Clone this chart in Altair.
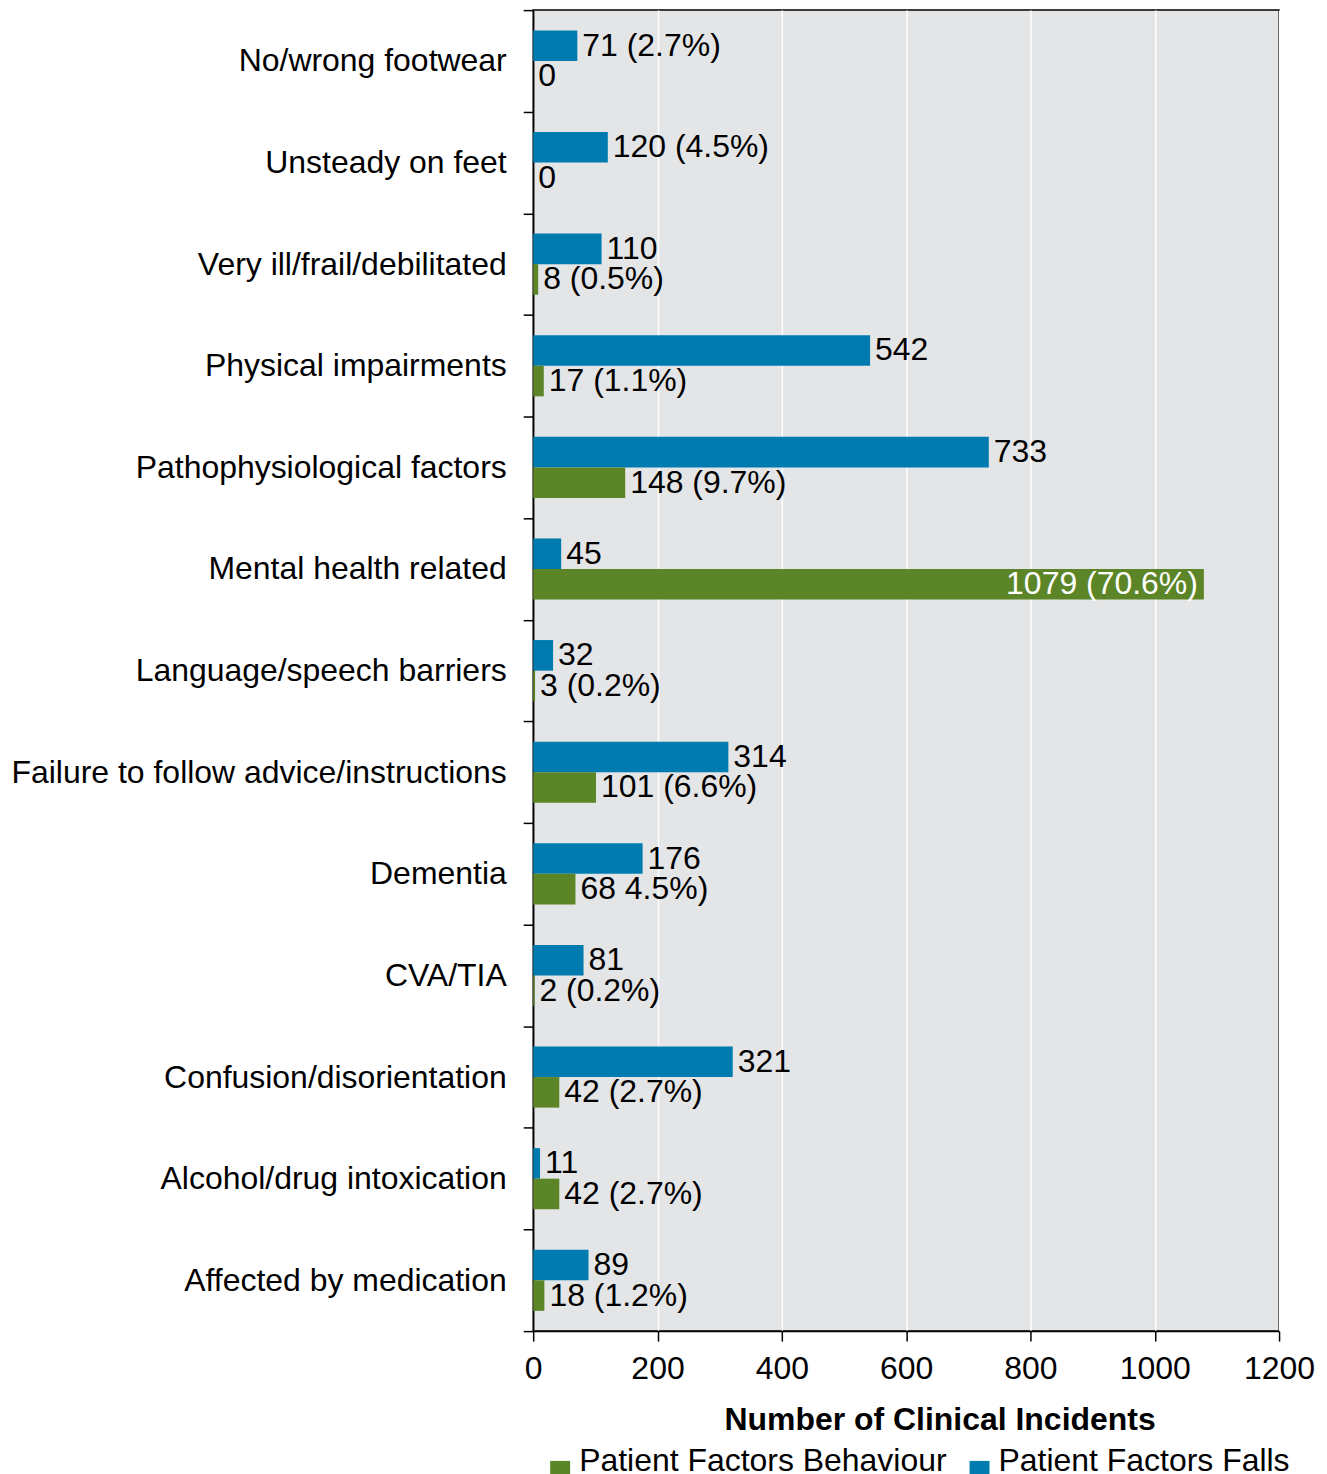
import altair as alt
import pandas as pd

categories = [
    "No/wrong footwear",
    "Unsteady on feet",
    "Very ill/frail/debilitated",
    "Physical impairments",
    "Pathophysiological factors",
    "Mental health related",
    "Language/speech barriers",
    "Failure to follow advice/instructions",
    "Dementia",
    "CVA/TIA",
    "Confusion/disorientation",
    "Alcohol/drug intoxication",
    "Affected by medication",
]
falls = [71, 120, 110, 542, 733, 45, 32, 314, 176, 81, 321, 11, 89]
behaviour = [0, 0, 8, 17, 148, 1079, 3, 101, 68, 2, 42, 42, 18]
falls_labels = ["71 (2.7%)", "120 (4.5%)", "110", "542", "733", "45", "32",
                "314", "176", "81", "321", "11", "89"]
behaviour_labels = ["0", "0", "8 (0.5%)", "17 (1.1%)", "148 (9.7%)", "1079 (70.6%)",
                    "3 (0.2%)", "101 (6.6%)", "68 4.5%)", "2 (0.2%)", "42 (2.7%)",
                    "42 (2.7%)", "18 (1.2%)"]
series_names = ["Patient Factors Behaviour", "Patient Factors Falls"]
series_colors = ["#5B8527", "#007BB0"]
x_ticks = [0, 200, 400, 600, 800, 1000, 1200]

rows = []
for i, c in enumerate(categories):
    rows.append(dict(category=c, series=series_names[1], value=falls[i], label=falls_labels[i]))
    rows.append(dict(category=c, series=series_names[0], value=behaviour[i], label=behaviour_labels[i]))
df = pd.DataFrame(rows)
df["inside"] = df["value"] > 1000

FONT = "Liberation Sans"

y_enc = alt.Y(
    "category:N", sort=categories,
    scale=alt.Scale(paddingInner=0, paddingOuter=0),
    axis=alt.Axis(title=None, tickBand="extent", tickSize=10, tickWidth=1.5,
                  labelFontSize=32, labelPadding=17, labelColor="black",
                  domainColor="black", domainWidth=1.5, tickColor="black",
                  labelLimit=700, grid=False, labelFont=FONT),
)
yoff_enc = alt.YOffset(
    "series:N", sort=[series_names[1], series_names[0]],
    scale=alt.Scale(paddingInner=0, paddingOuter=0.663),
)
x_enc = alt.X(
    "value:Q",
    scale=alt.Scale(domain=[0, 1200], nice=False),
    axis=alt.Axis(values=x_ticks, format="d", title="Number of Clinical Incidents",
                  titleFontSize=32, titleFontWeight="bold", titleColor="black",
                  titleFont=FONT, titleX=407, titlePadding=21,
                  grid=True, gridColor="white", gridWidth=1.5,
                  tickSize=10, tickWidth=1.5, tickColor="black",
                  domainColor="black", domainWidth=1.5,
                  labelFontSize=32, labelPadding=12, labelColor="black",
                  labelFont=FONT, labelFlush=False),
)

base = alt.Chart(df).encode(y=y_enc, yOffset=yoff_enc)

bars = base.mark_bar().encode(
    x=x_enc,
    color=alt.Color(
        "series:N",
        scale=alt.Scale(domain=series_names, range=series_colors),
        legend=alt.Legend(title=None, orient="none", legendX=11, legendY=1447,
                          direction="horizontal", symbolType="square",
                          symbolSize=400, symbolStrokeWidth=0,
                          labelFontSize=32, labelFont=FONT, labelColor="black",
                          labelOffset=3, columnPadding=16, labelLimit=700,
                          labelBaseline="alphabetic", padding=0),
    ),
)

text_out = base.mark_text(align="left", baseline="middle", dx=5, fontSize=32,
                          color="black", font=FONT).encode(
    x=alt.X("value:Q"), text="label:N"
).transform_filter("!datum.inside")

text_in = base.mark_text(align="right", baseline="middle", dx=-6, fontSize=32,
                         color="white", font=FONT).encode(
    x=alt.X("value:Q"), text="label:N"
).transform_filter("datum.inside")

chart = alt.layer(bars, text_out, text_in).properties(
    width=747, height=1323,
    autosize=alt.AutoSizeParams(type="none"),
    padding={"left": 526, "top": 1, "right": 40, "bottom": 150},
).configure(
    font=FONT
).configure_view(
    fill="#E4E5E7", stroke="black", strokeWidth=1.5
)

chart.save("out.html", embed_options={"renderer": "svg", "actions": False})
